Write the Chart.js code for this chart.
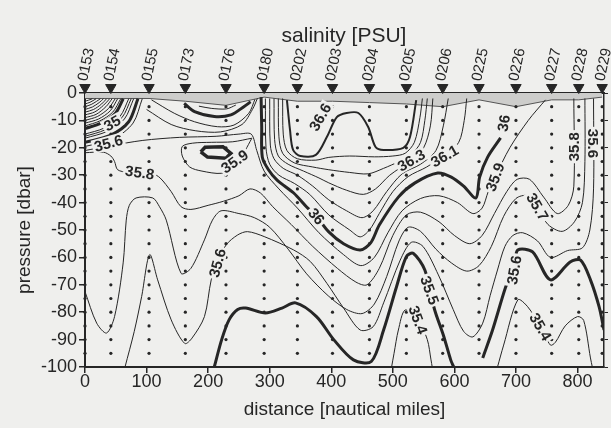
<!DOCTYPE html>
<html>
<head>
<meta charset="utf-8">
<script src="https://cdn.jsdelivr.net/npm/chart.js@4.4.1/dist/chart.umd.min.js"></script>
<style>
    html, body { margin: 0; padding: 0; background: #efefed; }
    #canva { width: 611px; height: 428px; }
</style>
</head>
<body>
<div id="canva"><canvas id="myChart" width="611" height="428"></canvas></div>
<script>
// stations along the section
const stations = ['0153', '0154', '0155', '0173', '0176', '0180', '0202', '0203', '0204', '0205', '0206', '0225', '0226', '0227', '0228', '0229'];
const stationDist = [0, 42, 104, 163, 229, 291, 345, 402, 462, 522, 581, 640, 700, 758, 802, 840];
const surfaceLayer = [-2, -2, -2, -3, -4.5, -1.5, -3, -3, -3.5, -4, -5, -2.5, -5, -2.5, -2.5, -1.5];
const sampleDepths = [-5, -10, -15, -20, -25, -30, -35, -40, -45, -50, -55, -60, -65, -70, -75, -80, -85, -90, -95];

const xTicks = [0, 100, 200, 300, 400, 500, 600, 700, 800];
const yTicks = [0, -10, -20, -30, -40, -50, -60, -70, -80, -90, -100];

// isolines, [distance, pressure]
const fan1 = [[0, -3], [6, -2.6], [12, -2.1]];
const fan1b = [[0, -4], [8, -3.4], [18, -2.1]];
const fan2 = [[0, -5], [10, -4.2], [19, -3], [25, -2.1]];
const fan2b = [[0, -6], [12, -5.1], [23, -3.5], [30, -2.1]];
const fan3 = [[0, -7], [14, -6], [27, -4], [35, -2.1]];
const fan3b = [[0, -8], [16, -6.9], [30, -4.5], [40, -2.1]];
const fan4 = [[0, -9], [18, -7.8], [34, -5], [44, -2.1]];
const fan4b = [[0, -10], [20, -8.6], [38, -5.7], [49, -2.1]];
const fan5 = [[0, -11], [22, -9.5], [41, -6.5], [53, -2.1]];
const fan5b = [[0, -12], [24, -10.2], [45, -7], [58, -2.1]];
const fan6 = [[0, -13], [26, -11], [49, -7.5], [62, -2.1]];
const fan7 = [[0, -15], [31, -12.8], [57, -8.5], [71, -2.1]];
const fan7b = [[0, -15.8], [33, -13.4], [60, -9], [75, -2.1]];
const fan8 = [[0, -16.5], [36, -14], [64, -9.5], [79, -2.1]];
const fan9 = [[0, -18], [41, -15.5], [71, -10.5], [86, -2.1]];
const fan10 = [[0, -19.5], [46, -16.8], [78, -11], [93, -2.1]];

const lensBold = [[161, -3.8], [178, -6.8], [210, -8.6], [237, -8], [258, -5], [269, -3.2]];
const lensIn = [[185, -4.8], [205, -5.6], [230, -5.8], [245, -4.4]];
const lens2 = [[108, -2.5], [145, -7.4], [178, -10.5], [215, -12.3], [242, -11.7], [266, -7.4], [276, -2.3]];
const lens3 = [[100, -6], [140, -11.5], [180, -13.8], [220, -14.2], [255, -11.5], [272, -6], [280, -2]];
const loop359 = [[188, -21.5], [195, -19.8], [224, -19.6], [237, -22], [229, -23.8], [199, -23.4], [188, -21.5]];
const ring359 = [[271, -16.5], [240, -17.8], [205, -18], [175, -18.3], [158, -19.5], [158, -23], [170, -27], [190, -28.5], [222, -29.3], [242, -27], [260, -21], [271, -16.5]];

const s359 = [[0, -21], [40, -19.3], [94, -17.3], [153, -16.2], [213, -15.8], [250, -15], [270, -15], [279, -21], [291, -28.5], [315, -35], [345, -42], [380, -51], [420, -59], [448, -63], [470, -60], [492, -51], [515, -43], [545, -38.5], [575, -37.5], [605, -40], [630, -44], [645, -42], [655, -36], [666, -30.7], [690, -20], [720, -10], [748, -2.5]];
const s358 = [[0, -21.8], [30, -21.6], [42, -23], [48, -25], [53, -28], [70, -29], [89, -29.3], [110, -29.5], [122, -31], [140, -36], [156, -41.5], [172, -42.5], [200, -41], [225, -39.5], [250, -37.5], [268, -35], [285, -36.5], [305, -41.5], [335, -48], [370, -56], [410, -64], [440, -69], [458, -70], [478, -64], [500, -52], [522, -44.5], [545, -43.5], [575, -47], [600, -52], [625, -55], [645, -52], [665, -44], [685, -36], [702, -31.5], [722, -31.5], [745, -38], [767, -44], [785, -41], [794, -34], [794, -2]];
const s357 = [[0, -72.5], [19, -84], [35, -87.6], [48, -81.6], [62, -62], [67, -46.4], [72, -41], [83, -38.3], [110, -38.3], [121, -41.5], [132, -46.4], [156, -65.8], [172, -64], [194, -53.6], [207, -46.4], [221, -43], [250, -44], [275, -45.5], [300, -49], [330, -57], [360, -66], [395, -74], [425, -79], [450, -80.5], [470, -77], [490, -67], [510, -54], [525, -49], [545, -50.5], [570, -57], [595, -62], [620, -65], [640, -63], [660, -56], [680, -45], [700, -38.5], [718, -37.5], [735, -42], [752, -48], [775, -50.5], [795, -47], [808, -40], [812, -25], [812, -2]];
const s356 = [[65, -100], [80, -87], [92, -74.3], [105, -59], [118, -68.2], [140, -82.8], [162, -91.4], [174, -89.4], [194, -81.6], [205, -68.2], [215, -62], [229, -55.5], [248, -51.8], [264, -50.6], [291, -52.4], [339, -57.3], [366, -61.5], [393, -69.5], [420, -78.5], [447, -86.5], [468, -85.3], [485, -76.6], [512, -61], [530, -54.5], [549, -56], [574, -66.4], [598, -79], [615, -87], [630, -89], [646, -84], [658, -74], [670, -64.6], [682, -56], [695, -52], [711, -51], [735, -54], [756, -60], [784, -57.5], [808, -56.5], [820, -50], [826, -35], [826, -2]];
const s355 = [[210, -100], [222, -90], [234, -82.8], [248, -79], [261, -78.5], [293, -80.3], [320, -78.5], [342, -76.6], [376, -81.6], [404, -90], [436, -97.4], [465, -98], [485, -86.5], [506, -70.7], [522, -59.7], [533, -58.5], [552, -64.6], [568, -79.2], [582, -88.3], [594, -97.4], [599, -100]];
const s355e = [[646, -96.7], [662, -86.5], [683, -71], [697, -63], [703, -57.3], [727, -58], [756, -68.2], [788, -61.7], [805, -61], [821, -68.2], [835, -78], [843, -86.5]];
const s354a = [[498, -100], [502, -95], [509, -86.5], [520, -79.2], [541, -82.8], [556, -90], [562, -97.4], [564, -100]];
const s354b = [[670, -100], [680, -92], [703, -75.5], [719, -78], [740, -85.3], [756, -92], [764, -91], [780, -85], [800, -81.6], [810, -83], [821, -96.7], [824, -100]];

const s360 = [[286, -1.5], [287, -12], [288, -23.4], [298, -28], [312, -31.8], [339, -36.5], [360, -41.6], [376, -45], [396, -50.7], [420, -55], [447, -57.3], [464, -54.7], [478, -48.2], [509, -38], [536, -32.8], [573, -29.2], [595, -30.7], [615, -34], [635, -38.3], [641, -30.7], [654, -23.4], [675, -16.4]];
const s361 = [[293, -2], [294, -20], [300, -26], [315, -30], [340, -33], [365, -37], [396, -44.5], [430, -50], [447, -52.5], [462, -50], [478, -44], [500, -36], [525, -30.5], [555, -27], [584, -22.6], [607, -18], [616, -10], [620, -2]];
const s362 = [[300, -2], [301, -19], [307, -24], [322, -27.5], [345, -30], [370, -34], [396, -39], [425, -43], [450, -45.5], [468, -43], [490, -36], [515, -29.5], [545, -26], [570, -21], [582, -12], [590, -2]];
const s363 = [[307, -2], [308, -17], [314, -23], [330, -26], [355, -28.5], [380, -31], [396, -32.8], [425, -35.5], [452, -37], [472, -35], [495, -30], [530, -24.5], [550, -20], [561, -12], [565, -2]];
const s364 = [[314, -2], [315, -16], [321, -22], [340, -25.5], [370, -27], [396, -28], [430, -29], [460, -29.5], [485, -27.5], [510, -25], [530, -22.5], [545, -18], [552, -10], [556, -2]];
const s365 = [[321, -2], [322, -15], [328, -21], [345, -24], [375, -24.5], [396, -23.5], [430, -23], [470, -23.3], [500, -23], [520, -22], [535, -18], [544, -9], [548, -2]];
const s366 = [[328, -2.6], [333, -13.5], [338, -20.8], [350, -23], [375, -22.6], [393, -16], [409, -8.8], [425, -7.3], [444, -7.3], [460, -12.4], [472, -19.7], [485, -20.8], [517, -20], [528, -16], [538, -2.6]];

// text, distance, pressure, angle
const isoLabels = [
    ['35', 44, -11, -30], ['35.6', 38, -18.3, -15], ['35.8', 89, -29, 8], ['35.9', 243, -25, -35],
    ['36.6', 382, -8.8, -60], ['36', 376, -45, 50], ['36.3', 530, -24.5, -30], ['36.1', 584, -23, -30],
    ['36', 680, -11, -80], ['35.9', 666, -30.7, -70], ['35.8', 794, -19.6, -90], ['35.6', 826, -18.4, 90],
    ['35.7', 735, -41.5, 60], ['35.6', 215, -62, -75], ['35.5', 560, -72, 70], ['35.4', 541, -82.8, 70],
    ['35.6', 697, -64.6, -80], ['35.4', 740, -85.3, 60]
];

const ink = '#262626';
const paper = '#efefed';
const fontFamily = '"Liberation Sans", Arial, Helvetica, sans-serif';
Chart.defaults.font.family = fontFamily;
Chart.defaults.color = ink;

function isoline(points, width) {
    return {
        data: points.map(p => ({ x: p[0], y: p[1] })),
        showLine: true,
        borderColor: ink,
        borderWidth: width,
        pointRadius: 0,
        tension: 0.3,
        fill: false,
        order: 5
    };
}

const thin = [fan1, fan1b, fan2, fan2b, fan3, fan3b, fan4, fan4b, fan5, fan5b, fan7, fan7b, fan8, fan10,
    lensIn, lens2, lens3, ring359, s359, s358, s357, s356, s354a, s354b, s361, s362, s363, s364, s365];
const bold = [fan6, fan9, lensBold, s360, s355, s355e];

const datasets = [];
datasets.push({
    data: stationDist.map(d => ({ x: d, y: 2 })),
    pointStyle: 'triangle', rotation: 180, pointRadius: 6,
    backgroundColor: ink, borderColor: ink, showLine: false, clip: false, order: 0
});
const bottles = [];
stationDist.forEach(d => sampleDepths.forEach(p => bottles.push({ x: d, y: p })));
datasets.push({
    data: bottles, pointRadius: 1.6, backgroundColor: ink, borderWidth: 0,
    showLine: false, clip: false, order: 1
});
thin.forEach(c => datasets.push(isoline(c, 1)));
bold.forEach(c => datasets.push(isoline(c, 3)));
datasets.push(isoline(s366, 2));
datasets.push(Object.assign(isoline(loop359, 3.5), { tension: 0 }));
datasets.push({
    data: stationDist.map((d, i) => ({ x: d, y: surfaceLayer[i] })),
    showLine: true, fill: 'end', backgroundColor: '#cdcdcb',
    borderColor: '#555', borderWidth: 1, pointRadius: 0, tension: 0, order: 10
});

const sectionText = {
    id: 'sectionText',
    beforeDraw(chart) {
        const ctx = chart.ctx;
        ctx.save();
        ctx.fillStyle = paper;
        ctx.fillRect(0, 0, chart.width, chart.height);
        ctx.restore();
    },
    afterDatasetsDraw(chart) {
        const ctx = chart.ctx;
        const xs = chart.scales.x;
        const ys = chart.scales.y;
        ctx.save();
        ctx.font = 'bold 15px ' + fontFamily;
        ctx.textAlign = 'center';
        ctx.textBaseline = 'middle';
        isoLabels.forEach(l => {
            ctx.save();
            ctx.translate(xs.getPixelForValue(l[1]), ys.getPixelForValue(l[2]));
            ctx.rotate(l[3] * Math.PI / 180);
            const w = ctx.measureText(l[0]).width;
            ctx.fillStyle = paper;
            ctx.fillRect(-w / 2 - 2, -7, w + 4, 14);
            ctx.fillStyle = ink;
            ctx.fillText(l[0], 0, 1);
            ctx.restore();
        });

        ctx.font = '15px ' + fontFamily;
        ctx.textAlign = 'left';
        stations.forEach((s, i) => {
            ctx.save();
            ctx.translate(xs.getPixelForValue(stationDist[i]) - 2, 81);
            ctx.rotate(-78 * Math.PI / 180);
            ctx.fillText(s, 0, 0);
            ctx.restore();
        });

        ctx.font = '21px ' + fontFamily;
        ctx.textAlign = 'center';
        ctx.fillText('salinity [PSU]', 344, 36);
        ctx.restore();
    }
};

const ctx = document.getElementById('myChart').getContext('2d');
const myChart = new Chart(ctx, {
    type: 'scatter',
    data: { datasets: datasets },
    options: {
        responsive: false,
        animation: false,
        devicePixelRatio: 1,
        events: [],
        layout: { padding: { top: 93, left: 0, right: 0, bottom: 0 } },
        plugins: { legend: { display: false }, tooltip: { enabled: false } },
        scales: {
            x: {
                type: 'linear', min: 0, max: 843,
                afterBuildTicks: s => { s.ticks = xTicks.map(v => ({ value: v })); },
                afterFit: s => { s.height = 61; },
                ticks: { font: { size: 18, lineHeight: 1 }, padding: 0, color: ink },
                grid: { drawOnChartArea: false, tickLength: 6, color: ink, lineWidth: 1.5 },
                border: { display: true, color: ink, width: 2 },
                title: { display: true, text: 'distance [nautical miles]', font: { size: 19 }, color: ink, padding: { top: 0, bottom: 7 } }
            },
            x2: {
                type: 'linear', position: 'top', min: 0, max: 843,
                afterFit: s => { s.height = 0; },
                ticks: { display: false },
                grid: { display: false },
                border: { display: true, color: ink, width: 2 }
            },
            y: {
                type: 'linear', min: -100, max: 0,
                afterBuildTicks: s => { s.ticks = yTicks.map(v => ({ value: v })); },
                afterFit: s => { s.width = 85; },
                ticks: { font: { size: 18, lineHeight: 1 }, padding: 2, color: ink },
                grid: { drawOnChartArea: false, tickLength: 6, color: ink, lineWidth: 1.5 },
                border: { display: true, color: ink, width: 2 },
                title: { display: true, text: 'pressure [dbar]', font: { size: 19 }, color: ink, padding: { top: 13, bottom: 0 } }
            },
            y2: {
                type: 'linear', position: 'right', min: -100, max: 0,
                afterBuildTicks: s => { s.ticks = yTicks.map(v => ({ value: v })); },
                afterFit: s => { s.width = 4; },
                ticks: { display: false },
                grid: { drawOnChartArea: false, tickLength: 4, color: ink, lineWidth: 1 },
                border: { display: true, color: ink, width: 1.5 }
            }
        }
    },
    plugins: [sectionText]
});
</script>
</body>
</html>
